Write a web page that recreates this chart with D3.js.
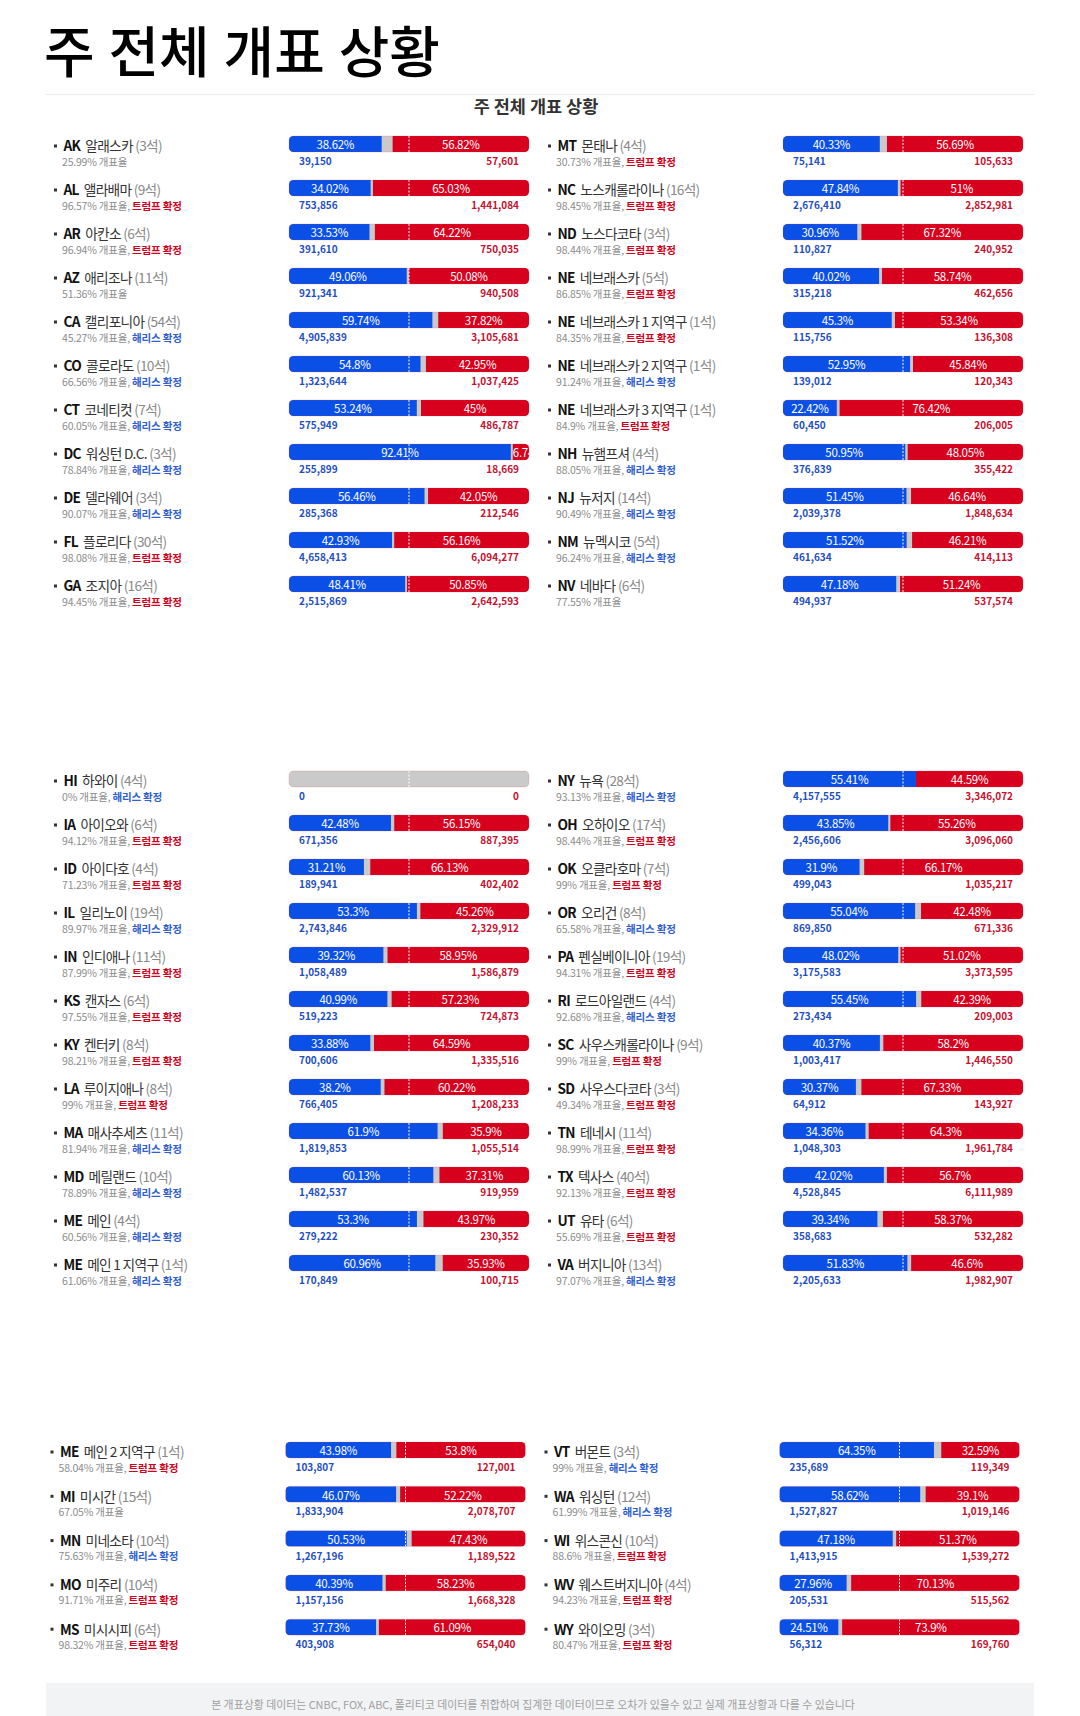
<!DOCTYPE html>
<html><head><meta charset="utf-8">
<script src="https://cdn.jsdelivr.net/npm/d3@7"></script>
<style>
html,body{margin:0;padding:0;background:#fff;}
svg{display:block;font-family:"Noto Sans CJK KR","Noto Sans",sans-serif;}
</style></head>
<body><svg id="chart" width="1080" height="1716"></svg>
<script>
// ---- DATA ----
const codes = ["AK","AL","AR","AZ","CA","CO","CT","DC","DE","FL","GA",
  "MT","NC","ND","NE","NE","NE","NE","NH","NJ","NM","NV",
  "HI","IA","ID","IL","IN","KS","KY","LA","MA","MD","ME","ME",
  "NY","OH","OK","OR","PA","RI","SC","SD","TN","TX","UT","VA",
  "ME","MI","MN","MO","MS",
  "VT","WA","WI","WV","WY"];
const names = ["알래스카","앨라배마","아칸소","애리조나","캘리포니아","콜로라도","코네티컷","워싱턴 D.C.","델라웨어","플로리다","조지아",
  "몬태나","노스캐롤라이나","노스다코타","네브래스카","네브래스카 1 지역구","네브래스카 2 지역구","네브래스카 3 지역구","뉴햄프셔","뉴저지","뉴멕시코","네바다",
  "하와이","아이오와","아이다호","일리노이","인디애나","캔자스","켄터키","루이지애나","매사추세츠","메릴랜드","메인","메인 1 지역구",
  "뉴욕","오하이오","오클라호마","오리건","펜실베이니아","로드아일랜드","사우스캐롤라이나","사우스다코타","테네시","텍사스","유타","버지니아",
  "메인 2 지역구","미시간","미네소타","미주리","미시시피",
  "버몬트","워싱턴","위스콘신","웨스트버지니아","와이오밍"];
const seats = [3,9,6,11,54,10,7,3,3,30,16,
  4,16,3,5,1,1,1,4,14,5,6,
  4,6,4,19,11,6,8,8,11,10,4,1,
  28,17,7,8,19,4,9,3,11,40,6,13,
  1,15,10,10,6,
  3,12,10,4,3];
const reporting = [25.99,96.57,96.94,51.36,45.27,66.56,60.05,78.84,90.07,98.08,94.45,
  30.73,98.45,98.44,86.85,84.35,91.24,84.9,88.05,90.49,96.24,77.55,
  0,94.12,71.23,89.97,87.99,97.55,98.21,99,81.94,78.89,60.56,61.06,
  93.13,98.44,99,65.58,94.31,92.68,99,49.34,98.99,92.13,55.69,97.07,
  58.04,67.05,75.63,91.71,98.32,
  99,61.99,88.6,94.23,80.47];
// "R" = 트럼프 확정, "D" = 해리스 확정, "" = undecided
const called = ["","R","R","","D","D","D","D","D","R","R",
  "R","R","R","R","R","D","R","D","D","D","",
  "D","R","R","D","R","R","R","R","D","D","D","D",
  "D","R","R","D","R","D","R","R","R","R","R","D",
  "R","","D","R","R",
  "D","D","R","R","R"];
const demPct = [38.62,34.02,33.53,49.06,59.74,54.8,53.24,92.41,56.46,42.93,48.41,
  40.33,47.84,30.96,40.02,45.3,52.95,22.42,50.95,51.45,51.52,47.18,
  0,42.48,31.21,53.3,39.32,40.99,33.88,38.2,61.9,60.13,53.3,60.96,
  55.41,43.85,31.9,55.04,48.02,55.45,40.37,30.37,34.36,42.02,39.34,51.83,
  43.98,46.07,50.53,40.39,37.73,
  64.35,58.62,47.18,27.96,24.51];
const repPct = [56.82,65.03,64.22,50.08,37.82,42.95,45,6.74,42.05,56.16,50.85,
  56.69,51,67.32,58.74,53.34,45.84,76.42,48.05,46.64,46.21,51.24,
  0,56.15,66.13,45.26,58.95,57.23,64.59,60.22,35.9,37.31,43.97,35.93,
  44.59,55.26,66.17,42.48,51.02,42.39,58.2,67.33,64.3,56.7,58.37,46.6,
  53.8,52.22,47.43,58.23,61.09,
  32.59,39.1,51.37,70.13,73.9];
const demVotes = [39150,753856,391610,921341,4905839,1323644,575949,255899,285368,4658413,2515869,
  75141,2676410,110827,315218,115756,139012,60450,376839,2039378,461634,494937,
  0,671356,189941,2743846,1058489,519223,700606,766405,1819853,1482537,279222,170849,
  4157555,2456606,499043,869850,3175583,273434,1003417,64912,1048303,4528845,358683,2205633,
  103807,1833904,1267196,1157156,403908,
  235689,1527827,1413915,205531,56312];
const repVotes = [57601,1441084,750035,940508,3105681,1037425,486787,18669,212546,6094277,2642593,
  105633,2852981,240952,462656,136308,120343,206005,355422,1848634,414113,537574,
  0,887395,402402,2329912,1586879,724873,1335516,1208233,1055514,919959,230352,100715,
  3346072,3096060,1035217,671336,3373595,209003,1446550,143927,1961784,6111989,532282,1982907,
  127001,2078707,1189522,1668328,654040,
  119349,1019146,1539272,515562,169760];
const titleText = "주 전체 개표 상황";
const noteText = "본 개표상황 데이터는 CNBC, FOX, ABC, 폴리티코 데이터를 취합하여 집계한 데이터이므로 오차가 있을수 있고 실제 개표상황과 다를 수 있습니다";

// ---- LAYOUT ----
const groups = [
  {start:0,n:11,col:0,panel:0},{start:11,n:11,col:1,panel:0},
  {start:22,n:12,col:0,panel:1},{start:34,n:12,col:1,panel:1},
  {start:46,n:5,col:0,panel:2},{start:51,n:5,col:1,panel:2}];
const panelTop = [136,771,1442], panelDx = [0,0,-3.5], panelStep=[44,44,44.3];
const colDx = [0,494];
const BLUE="#0b50e6", RED="#d7001d", GRAY="#cacaca";
const BAR_W=240, BAR_H=16, BAR_X=289;

const svg = d3.select("#chart");
svg.append("text").attr("x",44).attr("y",48).attr("dominant-baseline","central")
  .attr("font-size",55).attr("font-weight",500).attr("fill","#000")
  .attr("word-spacing",1.5).text(titleText);
svg.append("line").attr("x1",46).attr("x2",1034).attr("y1",94.5).attr("y2",94.5)
  .attr("stroke","#ececec");
svg.append("text").attr("x",536).attr("y",105).attr("text-anchor","middle")
  .attr("dominant-baseline","central").attr("font-size",17.5).attr("font-weight",700)
  .attr("fill","#333").text(titleText);

const x = d3.scaleLinear().domain([0,100]).range([0,BAR_W]);
const fmt = d3.format(",");
const defs = svg.append("defs");

groups.forEach((g,gi)=>{
  const y = d3.scaleLinear().domain([0,1]).range([panelTop[g.panel], panelTop[g.panel]+panelStep[g.panel]]);
  const ox = colDx[g.col] + panelDx[g.panel];
  for(let k=0;k<g.n;k++){
    const i = g.start+k;
    const top = y(k);
    const row = svg.append("g").attr("transform",`translate(${ox},${top})`);
    // label
    row.append("rect").attr("x",54).attr("y",8.5).attr("width",3).attr("height",3).attr("fill","#333");
    const t = row.append("text").attr("x",63.5).attr("y",9.3).attr("dominant-baseline","central")
      .attr("font-size",13.7).attr("letter-spacing",-0.7);
    t.append("tspan").attr("font-weight",700).attr("fill","#111").text(codes[i]);
    t.append("tspan").attr("dx",5).attr("fill","#333").text(names[i]);
    t.append("tspan").attr("fill","#8a8a8a").text(" ("+seats[i]+"석)");
    const s = row.append("text").attr("x",62).attr("y",24.5).attr("dominant-baseline","central")
      .attr("font-size",10.5).attr("letter-spacing",-0.2).attr("fill","#8c8c8c");
    s.append("tspan").text(reporting[i]+"% 개표율"+(called[i]?", ":""));
    if(called[i]==="R") s.append("tspan").attr("fill","#d0021b").attr("font-weight",700).text("트럼프 확정");
    if(called[i]==="D") s.append("tspan").attr("fill","#2f5fd0").attr("font-weight",700).text("해리스 확정");
    // bar
    const bar = row.append("g").attr("transform",`translate(${BAR_X},0)`);
    const cid = "clip"+i;
    defs.append("clipPath").attr("id",cid).append("rect").attr("width",BAR_W).attr("height",BAR_H).attr("rx",4.5);
    const bg = bar.append("g").attr("clip-path",`url(#${cid})`);
    bg.append("rect").attr("width",BAR_W).attr("height",BAR_H).attr("fill",GRAY);
    const segs = [];
    if(demPct[i]>0) segs.push({x0:0,w:x(demPct[i]),c:BLUE,v:demPct[i]});
    if(repPct[i]>0) segs.push({x0:BAR_W-x(repPct[i]),w:x(repPct[i]),c:RED,v:repPct[i]});
    segs.forEach((sg,j)=>{
      bg.append("rect").attr("x",sg.x0).attr("width",sg.w).attr("height",BAR_H).attr("fill",sg.c);
    });
    segs.forEach((sg,j)=>{
      const sid = cid+"s"+j;
      defs.append("clipPath").attr("id",sid).append("rect").attr("x",sg.x0).attr("width",sg.w).attr("height",BAR_H);
      const tt = bg.append("text").attr("clip-path",`url(#${sid})`).attr("y",8.3)
        .attr("dominant-baseline","central").attr("font-size",11.5).attr("fill","#fff")
        .attr("letter-spacing",-0.3).text(sg.v+"%");
      const tw = tt.node().getComputedTextLength();
      const cx = sg.x0+sg.w/2;
      tt.attr("x", tw>sg.w ? sg.x0 : cx-tw/2);
    });
    bg.append("line").attr("x1",x(50)).attr("x2",x(50)).attr("y1",0).attr("y2",BAR_H)
      .attr("stroke","#fff").attr("stroke-width",1).attr("stroke-dasharray","2,1.5");
    bar.append("rect").attr("width",BAR_W).attr("height",BAR_H).attr("rx",4.5)
      .attr("fill","none").attr("stroke","rgba(220,60,80,0.18)").attr("stroke-width",1);
    // votes
    bar.append("text").attr("x",10).attr("y",24.7).attr("dominant-baseline","central")
      .attr("font-size",10).attr("font-weight",700).attr("fill","#1f4fc0").text(fmt(demVotes[i]));
    bar.append("text").attr("x",BAR_W-10).attr("y",24.7).attr("text-anchor","end").attr("dominant-baseline","central")
      .attr("font-size",10).attr("font-weight",700).attr("fill","#c8102e").text(fmt(repVotes[i]));
  }
});

// footer
svg.append("rect").attr("x",46).attr("y",1683).attr("width",988).attr("height",40).attr("fill","#f2f3f5");
svg.append("text").attr("x",533).attr("y",1704).attr("text-anchor","middle").attr("dominant-baseline","central")
  .attr("font-size",10.9).attr("fill","#a0a0a0").text(noteText);
</script></body></html>
